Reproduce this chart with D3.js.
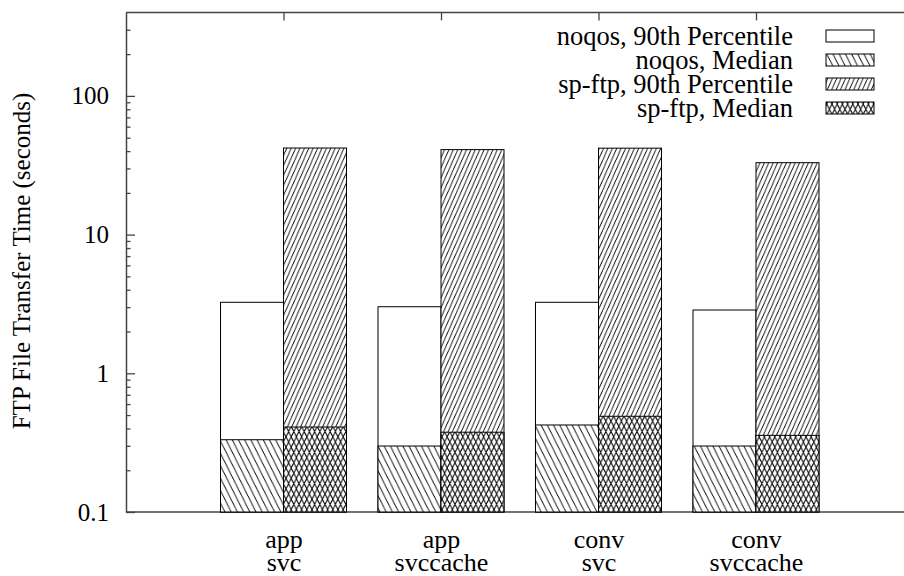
<!DOCTYPE html>
<html>
<head>
<meta charset="utf-8">
<script src="https://cdn.jsdelivr.net/npm/d3@7"></script>
<style>
  html, body { margin: 0; padding: 0; background: #fff; }
  svg { display: block; }
  svg text { font-family: "Liberation Serif", "DejaVu Serif", serif; fill: #000; }
</style>
</head>
<body>
<svg id="chart" width="904" height="576"></svg>
<script>
// FTP transfer time per configuration, 90th percentile and median, two policies
const configTop = ["app", "app", "conv", "conv"];
const configBottom = ["svc", "svccache", "svc", "svccache"];
const noqos90 = [3.25, 3.02, 3.25, 2.86];
const noqosMedian = [0.332, 0.299, 0.424, 0.299];
const spftp90 = [42.1, 41.0, 42.0, 33.0];
const spftpMedian = [0.41, 0.376, 0.49, 0.357];
const majorTicks = [0.1, 1, 10, 100];
const majorTickLabels = ["0.1", "1", "10", "100"];
const minorTicks = [0.2, 0.3, 0.4, 0.5, 0.6, 0.7, 0.8, 0.9,
                    2, 3, 4, 5, 6, 7, 8, 9,
                    20, 30, 40, 50, 60, 70, 80, 90,
                    200, 300];
const legendLabels = ["noqos, 90th Percentile", "noqos, Median",
                      "sp-ftp, 90th Percentile", "sp-ftp, Median"];

const svg = d3.select("#chart");
const tickFont = 25;
const labelFont = 26;
const legendFont = 26.5;
const axisColor = "#444";

const plotLeft = 126, plotRight = 913.5, plotTop = 12.4, plotBottom = 512;
const x = d3.scaleLinear().domain([-1, 4]).range([plotLeft, plotRight]);
const y = d3.scaleLog().domain([0.1, 400]).range([plotBottom, plotTop]);
const barWidth = 0.4;

// fill patterns
const defs = svg.append("defs");
function hatch(id, w, h, back, fwd, sw) {
  const p = defs.append("pattern")
    .attr("id", id).attr("patternUnits", "userSpaceOnUse")
    .attr("width", w).attr("height", h);
  p.append("rect").attr("width", w).attr("height", h).attr("fill", "#fff");
  let d = "";
  for (const dx of [-w, 0, w]) {
    if (back) d += `M${dx},0L${dx + w},${h}`;
    if (fwd) d += `M${dx + w},0L${dx},${h}`;
  }
  p.append("path").attr("d", d).attr("stroke", "#000")
    .attr("stroke-width", sw).attr("fill", "none");
}
hatch("pBack", 6.2, 12.4, true, false, 0.9);
hatch("pFwd", 4.4, 10, false, true, 0.9);
hatch("pCross", 5.2, 10.4, true, true, 1);

const fills = ["#fff", "url(#pBack)", "url(#pFwd)", "url(#pCross)"];

// frame
const frame = svg.append("g");
frame.append("line").attr("x1", plotLeft).attr("x2", plotRight).attr("y1", plotTop).attr("y2", plotTop)
  .attr("stroke", axisColor).attr("stroke-width", 1.5);
frame.append("line").attr("x1", plotLeft).attr("x2", plotRight).attr("y1", plotBottom).attr("y2", plotBottom)
  .attr("stroke", axisColor).attr("stroke-width", 1.5);
frame.append("line").attr("x1", plotRight).attr("x2", plotRight).attr("y1", plotTop).attr("y2", plotBottom)
  .attr("stroke", axisColor).attr("stroke-width", 1.5);

// left axis: major ticks with labels, minor ticks without
const yAxis = svg.append("g").attr("transform", `translate(${plotLeft},0)`)
  .call(d3.axisLeft(y).tickValues(majorTicks)
    .tickFormat((d, i) => majorTickLabels[i])
    .tickSizeInner(-9).tickSizeOuter(0).tickPadding(17));
yAxis.attr("font-family", null);
yAxis.select(".domain").attr("stroke", axisColor).attr("stroke-width", 1.5);
yAxis.selectAll(".tick line").attr("stroke", axisColor).attr("stroke-width", 1.3);
yAxis.selectAll(".tick text").attr("font-size", tickFont);

const yMinor = svg.append("g").attr("transform", `translate(${plotLeft},0)`)
  .call(d3.axisLeft(y).tickValues(minorTicks).tickFormat("")
    .tickSizeInner(-4.5).tickSizeOuter(0));
yMinor.select(".domain").remove();
yMinor.selectAll(".tick line").attr("stroke", axisColor).attr("stroke-width", 1.3);

// top ticks at group centres
const xTop = svg.append("g").attr("transform", `translate(0,${plotTop})`)
  .call(d3.axisTop(x).tickValues([0, 1, 2, 3]).tickFormat("")
    .tickSizeInner(-8).tickSizeOuter(0));
xTop.select(".domain").remove();
xTop.selectAll(".tick line").attr("stroke", axisColor).attr("stroke-width", 1.3);

// bottom axis: ticks and two-line category labels
const xBottom = svg.append("g").attr("transform", `translate(0,${plotBottom})`)
  .call(d3.axisBottom(x).tickValues([0, 1, 2, 3]).tickFormat("")
    .tickSizeInner(-8).tickSizeOuter(0));
xBottom.attr("font-family", null);
xBottom.select(".domain").remove();
xBottom.selectAll(".tick line").attr("stroke", axisColor).attr("stroke-width", 1.3);
xBottom.selectAll(".tick").each(function (d, i) {
  const g = d3.select(this);
  g.append("text").attr("x", 0).attr("y", 36)
    .attr("text-anchor", "middle").attr("font-size", labelFont)
    .text(configTop[i]);
  g.append("text").attr("x", 0).attr("y", 59)
    .attr("text-anchor", "middle").attr("font-size", labelFont)
    .text(configBottom[i]);
});

// bars, drawn series by series so medians sit over the percentiles
const series = [
  { values: noqos90, offset: -barWidth, fill: fills[0] },
  { values: noqosMedian, offset: -barWidth, fill: fills[1] },
  { values: spftp90, offset: 0, fill: fills[2] },
  { values: spftpMedian, offset: 0, fill: fills[3] }
];
const bars = svg.append("g");
series.forEach(s => {
  bars.append("g").selectAll("rect").data(s.values).join("rect")
    .attr("x", (d, i) => x(i + s.offset))
    .attr("width", (d, i) => x(i + s.offset + barWidth) - x(i + s.offset))
    .attr("y", d => y(d))
    .attr("height", d => y(0.1) - y(d))
    .attr("fill", s.fill)
    .attr("stroke", "#000").attr("stroke-width", 1);
});

// y-axis title
svg.append("text")
  .attr("transform", "translate(30,261) rotate(-90)")
  .attr("text-anchor", "middle").attr("font-size", tickFont)
  .text("FTP File Transfer Time (seconds)");

// legend
const legend = svg.append("g");
legendLabels.forEach((label, i) => {
  const cy = 37 + i * 24;
  legend.append("text").attr("x", 793).attr("y", cy + 8)
    .attr("text-anchor", "end").attr("font-size", legendFont)
    .text(label);
  legend.append("rect").attr("x", 826).attr("y", cy - 7)
    .attr("width", 48).attr("height", 12)
    .attr("fill", fills[i]).attr("stroke", "#000").attr("stroke-width", 1);
});
</script>
</body>
</html>
